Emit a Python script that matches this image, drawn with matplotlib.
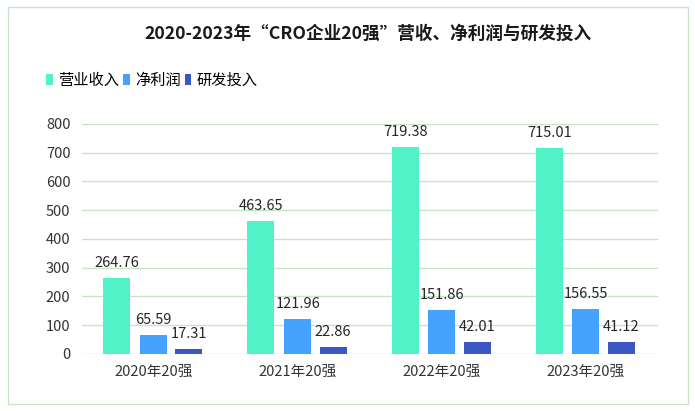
import matplotlib.pyplot as plt
import matplotlib.patches as mpatches
import numpy as np

plt.rcParams['font.family'] = ['Noto Sans CJK SC', 'DejaVu Sans']

# data
categories = ['2020年20强', '2021年20强', '2022年20强', '2023年20强']
revenue = [264.76, 463.65, 719.38, 715.01]
net_profit = [65.59, 121.96, 151.86, 156.55]
rd_invest = [17.31, 22.86, 42.01, 41.12]
series_names = ['营业收入', '净利润', '研发投入']
colors = ['#52F2C8', '#45A3FF', '#3C56C4']
yticks = [0, 100, 200, 300, 400, 500, 600, 700, 800]

fig = plt.figure(figsize=(6.95, 4.11), dpi=100)
ax = fig.add_axes([0.1173, 0.1387, 0.8295, 0.5596])

x = np.arange(len(categories))
w = 0.1875
offsets = [-0.255, 0, 0.245]
for vals, off, c, name in zip([revenue, net_profit, rd_invest], offsets, colors, series_names):
    bars = ax.bar(x + off, vals, width=w, color=c, label=name, zorder=3)
    for b, v in zip(bars, vals):
        ax.text(b.get_x() + b.get_width() / 2, v + 28, f'{v:.2f}',
                ha='center', va='bottom', fontsize=10.5, color='#262626', zorder=4)

ax.set_xlim(-0.5, 3.5)
ax.set_ylim(0, 800)
ax.set_yticks(yticks)
ax.set_xticks(x)
ax.set_xticklabels(categories)
ax.tick_params(axis='both', length=0, labelsize=10.5, colors='#333333')
ax.tick_params(axis='y', pad=8)
ax.tick_params(axis='x', pad=8)
ax.grid(axis='y', color='#C6E6C8', linewidth=1, zorder=0)
for s in ax.spines.values():
    s.set_visible(False)

fig.text(0.529, 0.918, '2020-2023年“CRO企业20强”营收、净利润与研发投入',
         ha='center', va='center', fontsize=12.7, fontweight='bold', color='#1a1a1a')

fig.legend(loc='center left', bbox_to_anchor=(0.057, 0.805), ncol=3, frameon=False,
           fontsize=11, handlelength=0.45, handleheight=0.75, handletextpad=0.35,
           columnspacing=0.25, borderaxespad=0)

border = mpatches.Rectangle((8 / 695, 7 / 411), 680 / 695, 397 / 411,
                            transform=fig.transFigure, fill=False,
                            edgecolor='#C6E6C8', linewidth=1)
fig.patches.append(border)

fig.savefig('out.png', dpi=100)
